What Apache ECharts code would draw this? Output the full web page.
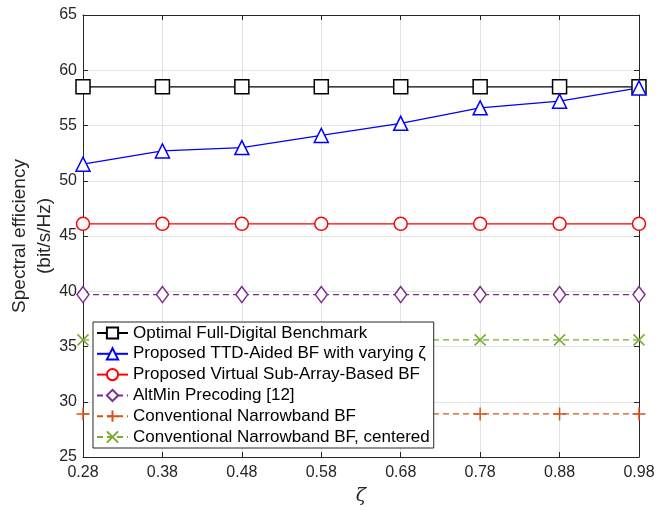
<!DOCTYPE html>
<html>
<head>
<meta charset="utf-8">
<script src="https://cdn.jsdelivr.net/npm/echarts@6/dist/echarts.min.js"></script>
<style>
  html, body { margin: 0; padding: 0; background: #fff; }
  #chart { width: 657px; height: 510px; }
</style>
</head>
<body>
<div id="chart"></div>
<script>
// Spectral efficiency versus the TTD parameter zeta
const zetaTicks = ['0.28', '0.38', '0.48', '0.58', '0.68', '0.78', '0.88', '0.98'];
const optimalFD = [58.5, 58.5, 58.5, 58.5, 58.5, 58.5, 58.5, 58.5];
const ttdAided = [51.5, 52.7, 53.0, 54.1, 55.2, 56.6, 57.2, 58.4];
const virtualSubArray = [46.1, 46.1, 46.1, 46.1, 46.1, 46.1, 46.1, 46.1];
const altMin = [39.7, 39.7, 39.7, 39.7, 39.7, 39.7, 39.7, 39.7];
const narrowband = [28.9, 28.9, 28.9, 28.9, 28.9, 28.9, 28.9, 28.9];
const narrowbandCentered = [35.6, 35.6, 35.6, 35.6, 35.6, 35.6, 35.6, 35.6];

const seriesNames = [
  'Optimal Full-Digital Benchmark',
  'Proposed TTD-Aided BF with varying \u03b6',
  'Proposed Virtual Sub-Array-Based BF',
  'AltMin Precoding [12]',
  'Conventional Narrowband BF',
  'Conventional Narrowband BF, centered'
];

const axisColor = '#262626';
const gridColor = '#e3e3e3';
const font = 'Liberation Sans, Arial, Helvetica, sans-serif';

const plusPath = 'path://M5,0L5,10M0,5L10,5';
const crossPath = 'path://M0,0L10,10M0,10L10,0';

function lineSeries(name, data, color, symbol, size, dashed) {
  return {
    name: name,
    type: 'line',
    data: data,
    symbol: symbol,
    symbolSize: size,
    showAllSymbol: true,
    lineStyle: { color: color, width: 1.3, type: dashed ? [6, 4] : 'solid' },
    itemStyle: {
      color: (symbol.indexOf('path') === 0) ? 'rgba(0,0,0,0)' : '#fff',
      borderColor: color,
      borderWidth: 1.5
    },
    emphasis: { disabled: true },
    animation: false,
    z: 3
  };
}

const chart = echarts.init(document.getElementById('chart'), null, { renderer: 'canvas' });

chart.setOption({
  backgroundColor: '#fff',
  animation: false,
  textStyle: { fontFamily: font },
  grid: { left: 83, right: 18, top: 15, bottom: 53, containLabel: false, outerBoundsMode: 'none' },
  legend: {
    orient: 'vertical',
    left: 93,
    top: 322,
    padding: [1.75, 4, 1.75, 3],
    itemGap: 2.3,
    itemWidth: 31,
    itemHeight: 14,
    backgroundColor: '#fff',
    borderColor: axisColor,
    borderWidth: 1,
    textStyle: { fontSize: 17, lineHeight: 18.5, color: '#000', fontFamily: font },
    data: seriesNames,
    z: 10
  },
  xAxis: [{
    type: 'category',
    data: zetaTicks,
    boundaryGap: false,
    name: '\u03b6',
    nameLocation: 'middle',
    nameGap: 30,
    nameMoveOverlap: false,
    nameTextStyle: { fontSize: 19, fontStyle: 'italic', color: axisColor, fontFamily: 'DejaVu Serif, serif' },
    axisLine: { show: true, lineStyle: { color: axisColor, width: 1 } },
    axisTick: { show: true, inside: true, length: 5, alignWithLabel: true, lineStyle: { color: axisColor } },
    axisLabel: { fontSize: 16, color: axisColor, margin: 8 },
    splitLine: { show: true, lineStyle: { color: gridColor, width: 1 } }
  }, {
    type: 'category',
    data: zetaTicks,
    boundaryGap: false,
    position: 'top',
    axisLine: { show: true, lineStyle: { color: axisColor, width: 1 } },
    axisTick: { show: true, inside: true, length: 5, lineStyle: { color: axisColor } },
    axisLabel: { show: false },
    splitLine: { show: false }
  }],
  yAxis: [{
    type: 'value',
    min: 25,
    max: 65,
    interval: 5,
    name: 'Spectral efficiency\n(bit/s/Hz)',
    nameLocation: 'middle',
    nameGap: 26,
    nameMoveOverlap: false,
    nameTextStyle: { fontSize: 19, color: axisColor, lineHeight: 25, fontFamily: font },
    axisLine: { show: true, lineStyle: { color: axisColor, width: 1 } },
    axisTick: { show: true, inside: true, length: 5, lineStyle: { color: axisColor } },
    axisLabel: { fontSize: 16, color: axisColor, margin: 6 },
    splitLine: { show: true, lineStyle: { color: gridColor, width: 1 } }
  }, {
    type: 'value',
    min: 25,
    max: 65,
    interval: 5,
    position: 'right',
    axisLine: { show: true, lineStyle: { color: axisColor, width: 1 } },
    axisTick: { show: true, inside: true, length: 5, lineStyle: { color: axisColor } },
    axisLabel: { show: false },
    splitLine: { show: false }
  }],
  series: [
    lineSeries(seriesNames[0], optimalFD, '#000000', 'rect', 14, false),
    lineSeries(seriesNames[1], ttdAided, '#0000ff', 'triangle', 14, false),
    lineSeries(seriesNames[2], virtualSubArray, '#ff0000', 'circle', 13, false),
    lineSeries(seriesNames[3], altMin, '#7e2f8e', 'diamond', [12, 16], true),
    lineSeries(seriesNames[4], narrowband, '#d95319', plusPath, 13, true),
    lineSeries(seriesNames[5], narrowbandCentered, '#77ac30', crossPath, 11, true)
  ]
});
</script>
</body>
</html>
